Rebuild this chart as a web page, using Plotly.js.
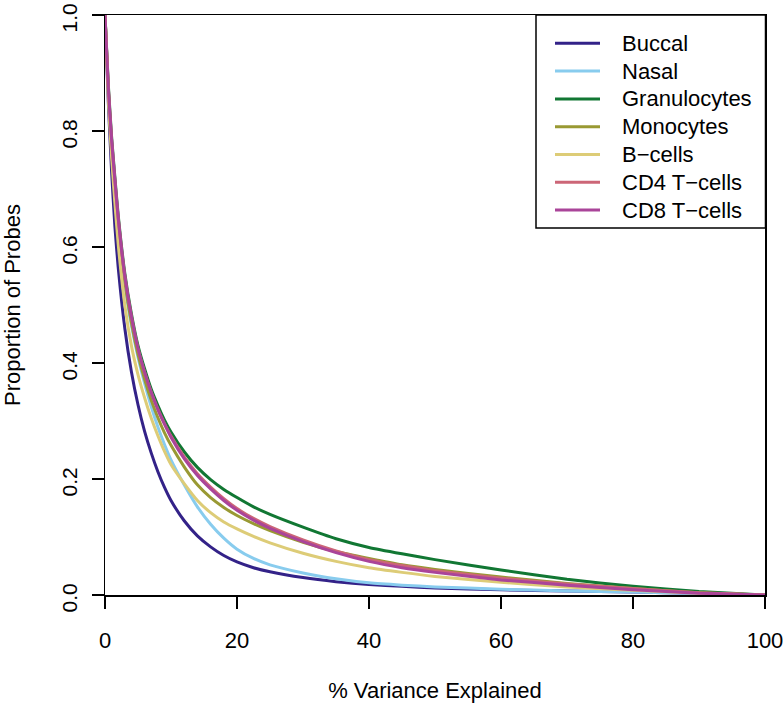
<!DOCTYPE html>
<html>
<head>
<meta charset="utf-8">
<script src="https://cdn.plot.ly/plotly-3.0.1.min.js"></script>
<style>html,body{margin:0;padding:0;background:#fff;}#chart{width:784px;height:706px;}</style>
</head>
<body>
<div id="chart"></div>
<script>
// % variance explained (x) and proportion of probes (y) per sample type
const varianceExplained = [0, 0.5, 1, 1.5, 2, 3, 4, 5, 6, 7, 8, 9, 10, 12, 14, 16, 18, 20, 22.5, 25, 30, 35, 40, 45, 50, 60, 70, 80, 90, 100];

const buccal       = [1.0, 0.85, 0.73, 0.635, 0.565, 0.46, 0.385, 0.328, 0.282, 0.245, 0.213, 0.186, 0.163, 0.128, 0.102, 0.083, 0.068, 0.057, 0.047, 0.040, 0.030, 0.023, 0.018, 0.015, 0.012, 0.009, 0.007, 0.005, 0.003, 0.0];
const nasal        = [1.0, 0.87, 0.77, 0.69, 0.625, 0.535, 0.465, 0.41, 0.365, 0.325, 0.29, 0.26, 0.233, 0.19, 0.152, 0.122, 0.098, 0.079, 0.063, 0.052, 0.038, 0.028, 0.021, 0.017, 0.014, 0.010, 0.007, 0.005, 0.003, 0.0];
const granulocytes = [1.0, 0.88, 0.79, 0.72, 0.655, 0.555, 0.485, 0.43, 0.39, 0.355, 0.327, 0.302, 0.281, 0.247, 0.22, 0.199, 0.182, 0.168, 0.152, 0.139, 0.117, 0.097, 0.082, 0.071, 0.061, 0.043, 0.027, 0.015, 0.006, 0.0];
const monocytes    = [1.0, 0.87, 0.775, 0.70, 0.635, 0.54, 0.47, 0.415, 0.372, 0.336, 0.306, 0.28, 0.258, 0.221, 0.19, 0.168, 0.151, 0.137, 0.123, 0.111, 0.091, 0.075, 0.063, 0.052, 0.044, 0.031, 0.020, 0.011, 0.004, 0.0];
const bCells       = [1.0, 0.86, 0.755, 0.675, 0.605, 0.50, 0.43, 0.38, 0.34, 0.305, 0.275, 0.248, 0.225, 0.192, 0.163, 0.142, 0.126, 0.114, 0.101, 0.090, 0.072, 0.058, 0.047, 0.039, 0.032, 0.022, 0.014, 0.008, 0.003, 0.0];
const cd4TCells    = [1.0, 0.875, 0.785, 0.715, 0.65, 0.55, 0.48, 0.425, 0.384, 0.35, 0.321, 0.296, 0.274, 0.238, 0.209, 0.186, 0.166, 0.149, 0.132, 0.118, 0.095, 0.076, 0.061, 0.051, 0.042, 0.029, 0.019, 0.011, 0.004, 0.0];
const cd8TCells    = [1.0, 0.875, 0.785, 0.715, 0.65, 0.55, 0.48, 0.425, 0.384, 0.349, 0.32, 0.295, 0.272, 0.235, 0.206, 0.183, 0.163, 0.146, 0.129, 0.115, 0.092, 0.073, 0.058, 0.047, 0.039, 0.026, 0.017, 0.009, 0.003, 0.0];

const seriesNames  = ["Buccal", "Nasal", "Granulocytes", "Monocytes", "B\u2212cells", "CD4 T\u2212cells", "CD8 T\u2212cells"];
const seriesValues = [buccal, nasal, granulocytes, monocytes, bCells, cd4TCells, cd8TCells];
const seriesColors = ["#332288", "#88CCEE", "#117733", "#999933", "#DDCC77", "#CC6677", "#AA4499"];

const xTicks = [0, 20, 40, 60, 80, 100];
const yTicks = [0, 0.2, 0.4, 0.6, 0.8, 1.0];
const yTickLabels = ["0.0", "0.2", "0.4", "0.6", "0.8", "1.0"];

const FONT = "Liberation Sans, Arial, Helvetica, sans-serif";
const W = 784, H = 706;
const M = {l: 105, r: 19, t: 15, b: 111};
const plotW = W - M.l - M.r, plotH = H - M.t - M.b;
const px2x = p => (p - M.l) / plotW;
const py2y = p => (H - M.b - p) / plotH;

const traces = seriesNames.map((name, i) => ({
  x: varianceExplained,
  y: seriesValues[i],
  name: name,
  type: "scatter",
  mode: "lines",
  line: {color: seriesColors[i], width: 3, shape: "spline", smoothing: 0.5},
  showlegend: false
}));

// Hand-built legend box (R style)
const legendShapes = [{
  type: "rect", xref: "paper", yref: "paper",
  x0: px2x(536), x1: px2x(765.5), y0: py2y(228), y1: py2y(15),
  line: {color: "#000", width: 1.5}, fillcolor: "rgba(255,255,255,1)", layer: "above"
}];
const legendAnnotations = [];
seriesNames.forEach((name, i) => {
  const rowY = py2y(43.3 + 27.8 * i);
  legendShapes.push({
    type: "line", xref: "paper", yref: "paper",
    x0: px2x(555), x1: px2x(600), y0: rowY, y1: rowY,
    line: {color: seriesColors[i], width: 3}, layer: "above"
  });
  legendAnnotations.push({
    xref: "paper", yref: "paper", x: px2x(620), y: rowY,
    xanchor: "left", yanchor: "middle", showarrow: false,
    text: name, font: {family: FONT, size: 22, color: "#000"}
  });
});

const layout = {
  width: W,
  height: H,
  margin: {l: M.l, r: M.r, t: M.t, b: M.b, pad: 0},
  paper_bgcolor: "#ffffff",
  plot_bgcolor: "#ffffff",
  font: {family: FONT, size: 22, color: "#000"},
  showlegend: false,
  shapes: legendShapes,
  annotations: legendAnnotations,
  xaxis: {
    range: [0, 100],
    tickvals: xTicks,
    ticktext: xTicks.map(String),
    ticks: "outside", ticklen: 12, tickwidth: 1.5, tickcolor: "#000",
    ticklabelstandoff: 13,
    ticklabeloverflow: "allow",
    showline: true, linecolor: "#000", linewidth: 1.5, mirror: true,
    showgrid: false, zeroline: false,
    tickfont: {family: FONT, size: 22},
    title: {text: "% Variance Explained", font: {family: FONT, size: 22}, standoff: 30},
    automargin: false
  },
  yaxis: {
    range: [0, 1],
    tickvals: yTicks,
    ticktext: yTickLabels,
    tickangle: -90,
    ticks: "outside", ticklen: 12, tickwidth: 1.5, tickcolor: "#000",
    ticklabelstandoff: 6,
    ticklabelshift: 6,
    ticklabeloverflow: "allow",
    showline: true, linecolor: "#000", linewidth: 1.5, mirror: true,
    showgrid: false, zeroline: false,
    tickfont: {family: FONT, size: 21},
    title: {text: "Proportion of Probes", font: {family: FONT, size: 22}, standoff: 31},
    automargin: false
  }
};

Plotly.newPlot("chart", traces, layout, {displayModeBar: false, staticPlot: true});
</script>
</body>
</html>
